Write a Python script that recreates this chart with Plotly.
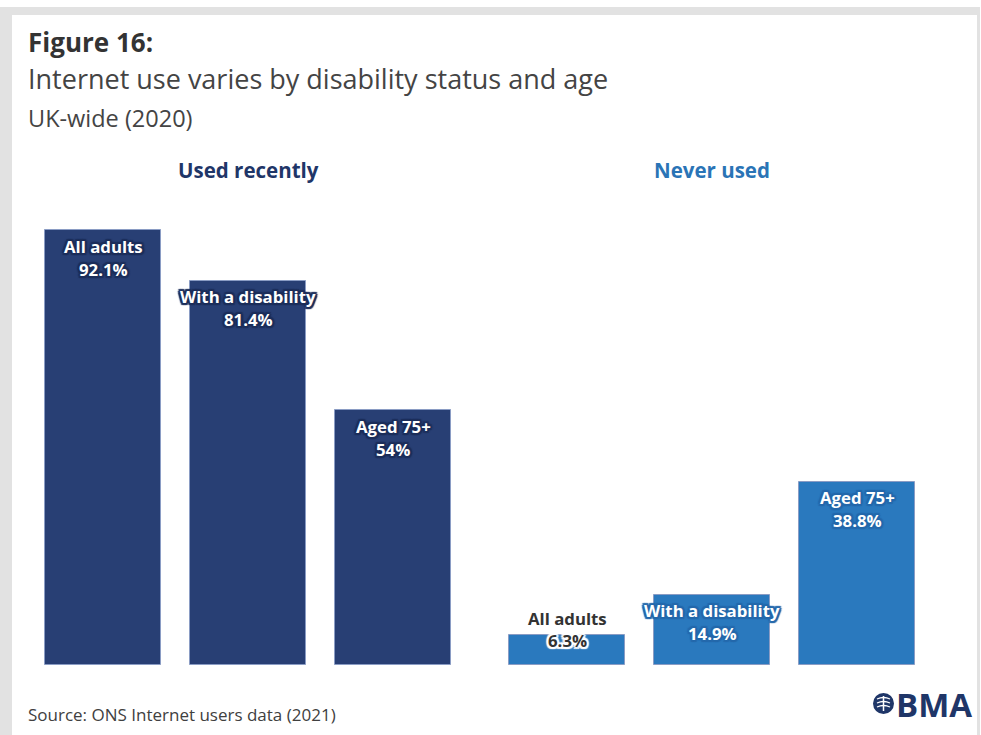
import plotly.graph_objects as go

# ---- data -------------------------------------------------------------
groups = ["Used recently", "Never used"]
categories = ["All adults", "With a disability", "Aged 75+"]
used_recently = [92.1, 81.4, 54]
never_used = [6.3, 14.9, 38.8]

# ---- styling ----------------------------------------------------------
W, H = 981, 735
FONT = "Open Sans"
NAVY = "#283f74"
BLUE = "#2a79be"
HEADER_COLORS = ["#1f3668", "#2a74b6"]
BAR_COLORS = [NAVY, BLUE]
HALO_COLORS = ["#1c2e5a", "#2468ab"]

PLOT_TOP, PLOT_BOTTOM = 193, 665          # pixel rows of 100% and 0%
GROUP_OFFSET = 3.2                        # bar slots between group starts
BAR_WIDTH = 0.8


def px_x(p):
    return p / W


def px_y(p):
    return (PLOT_BOTTOM - p) / (PLOT_BOTTOM - PLOT_TOP)


def halo(color, r=1.8):
    offs = [(-r, -r), (r, -r), (-r, r), (r, r), (0, -r - .5), (0, r + .5), (-r - .5, 0), (r + .5, 0)]
    return ", ".join(f"{dx}px {dy}px 1px {color}" for dx, dy in offs)


fig = go.Figure()
annotations = []

for g, (name, values) in enumerate(zip(groups, [used_recently, never_used])):
    xs = [g * GROUP_OFFSET + i for i in range(len(categories))]
    fig.add_trace(go.Bar(
        x=xs, y=values, width=BAR_WIDTH, name=name,
        marker=dict(color=BAR_COLORS[g], line=dict(color="#8a9cc4", width=1)),
        hoverinfo="skip", showlegend=False,
    ))
    # group heading above the bars
    annotations.append(dict(
        x=sum(xs) / len(xs), y=px_y(170), xref="x", yref="paper",
        text=f"<b>{name}</b>",
        font=dict(family=FONT, size=20.5, color=HEADER_COLORS[g]),
    ))
    for x, cat, v in zip(xs, categories, values):
        if v < 10:
            # short bar: label sits above the bar top in dark text
            shifts = (17, -5)
            color, shadow = "#333333", halo("white")
        else:
            shifts = (-16, -39)
            color, shadow = "white", halo(HALO_COLORS[g])
        for line, dy in zip([cat, f"{v:g}%"], shifts):
            annotations.append(dict(
                x=x, y=v, xref="x", yref="y", yshift=dy,
                text=f"<b>{line}</b>",
                font=dict(family=FONT, size=16.8, color=color, shadow=shadow),
            ))

# ---- titles, source and logo text ------------------------------------------
annotations += [
    dict(x=px_x(26), y=px_y(42), text="<b>Figure 16:</b>", xanchor="left",
         font=dict(family=FONT, size=26, color="#333333")),
    dict(x=px_x(26), y=px_y(79), text="Internet use varies by disability status and age",
         xanchor="left", font=dict(family=FONT, size=27, color="#444444")),
    dict(x=px_x(26), y=px_y(118), text="UK-wide (2020)", xanchor="left",
         font=dict(family=FONT, size=23.5, color="#444444")),
    dict(x=px_x(26), y=px_y(714), text="Source: ONS Internet users data (2021)",
         xanchor="left", font=dict(family=FONT, size=17, color="#404040")),
    dict(x=px_x(894), y=px_y(704), text="<b>BMA</b>", xanchor="left",
         font=dict(family=FONT, size=33, color="#1f3668")),
]
for a in annotations:
    a.setdefault("showarrow", False)
    a.setdefault("xref", "paper")
    a.setdefault("yref", "paper")
    a.setdefault("yanchor", "middle")

# ---- frame and logo mark ---------------------------------------------------
shapes = [
    dict(type="rect", xref="paper", yref="paper", layer="below",
         x0=px_x(0), x1=px_x(980), y0=px_y(7), y1=px_y(740),
         fillcolor="#e2e2e2", line_width=0),
    dict(type="rect", xref="paper", yref="paper", layer="below",
         x0=px_x(12), x1=px_x(977), y0=px_y(15), y1=px_y(740),
         fillcolor="white", line_width=0),
    dict(type="circle", xref="paper", yref="paper",
         x0=px_x(873), x1=px_x(894), y0=px_y(693), y1=px_y(714),
         fillcolor="#1f3668", line_width=0),
    dict(type="line", xref="paper", yref="paper",
         x0=px_x(883.5), x1=px_x(883.5), y0=px_y(696), y1=px_y(711),
         line=dict(color="white", width=1.5)),
]
for py in (699, 703, 707):
    shapes.append(dict(type="path", xref="paper", yref="paper",
                       path=f"M {px_x(877)},{px_y(py)} Q {px_x(883.5)},{px_y(py - 3)} {px_x(890)},{px_y(py)}",
                       line=dict(color="white", width=1.3)))

fig.update_layout(
    width=W, height=H,
    margin=dict(l=0, r=0, t=PLOT_TOP, b=H - PLOT_BOTTOM),
    paper_bgcolor="white", plot_bgcolor="rgba(0,0,0,0)",
    xaxis=dict(range=[-103 / 145, (W - 103) / 145], visible=False, fixedrange=True),
    yaxis=dict(range=[0, 100], visible=False, fixedrange=True),
    annotations=annotations, shapes=shapes,
    bargap=0,
)

fig.write_html("out.html")
